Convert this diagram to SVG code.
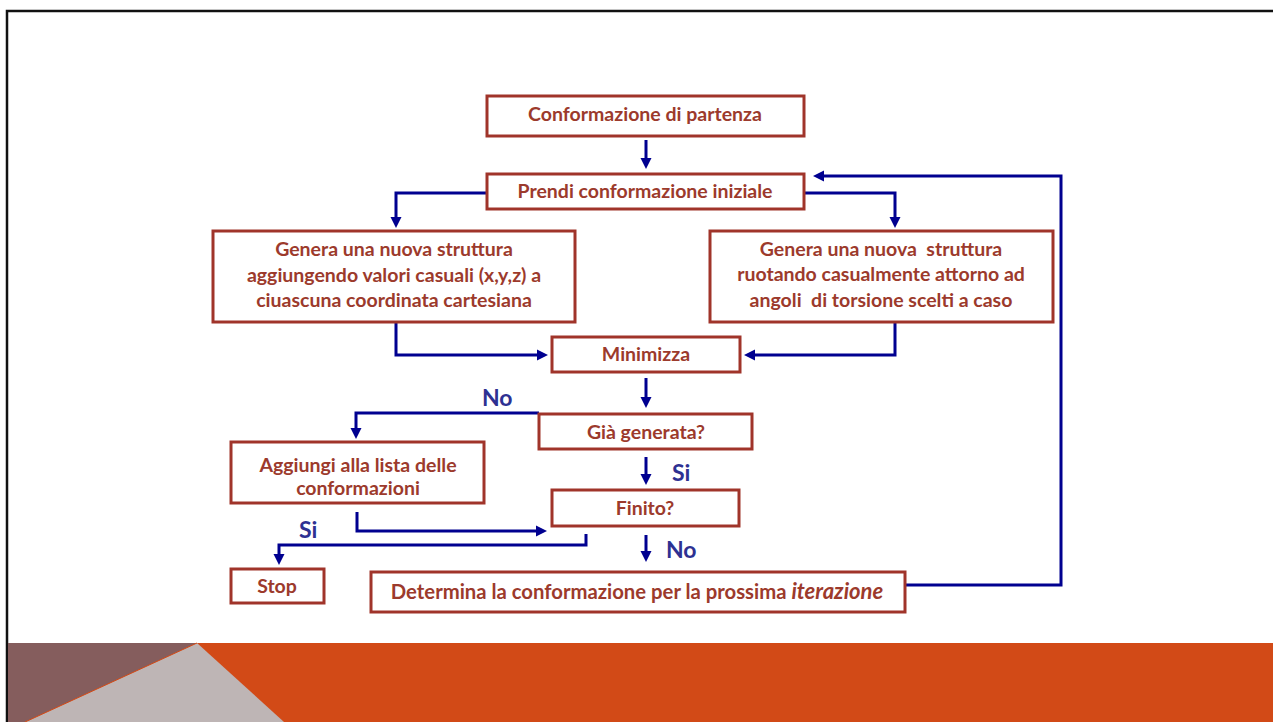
<svg xmlns="http://www.w3.org/2000/svg" width="1273" height="722" viewBox="0 0 1273 722">
<style>
.box{fill:#fff;stroke:#A0342A;stroke-width:3}
.t{font-family:"Lato","Liberation Sans",sans-serif;font-weight:bold;font-size:19.5px;fill:#9C3A2C;text-anchor:middle}
.lbl{font-family:"Lato","Liberation Sans",sans-serif;font-weight:bold;font-size:23px;fill:#2E3192}
.c{fill:none;stroke:#000090;stroke-width:3}
</style>
<defs>
<marker id="ah" markerUnits="userSpaceOnUse" markerWidth="12" markerHeight="12" refX="1" refY="6" orient="auto">
<path d="M0,0.5 L11,6 L0,11.5 z" fill="#000090"/>
</marker>
</defs>
<rect width="1273" height="722" fill="#fff"/>
<g id="background">
<path d="M7,722 V11 H1273" fill="none" stroke="#111" stroke-width="2.5"/>
<rect x="8" y="643" width="1265" height="79" fill="#D24A17"/>
<polygon points="8,643 197,643 25,722 8,722" fill="#855D5D"/>
<polygon points="197,643 284,722 25,722" fill="#BEB5B5"/>
<line x1="197" y1="643" x2="25" y2="722" stroke="#D24A17" stroke-width="1"/>
</g>
<g id="connectors">
<path class="c" d="M646,140 V159" marker-end="url(#ah)"/>
<path class="c" d="M487,193 H396 V218" marker-end="url(#ah)"/>
<path class="c" d="M804,193 H895 V218" marker-end="url(#ah)"/>
<path class="c" d="M906,585 H1061 V176 H823" marker-end="url(#ah)"/>
<path class="c" d="M396,323 V355 H538" marker-end="url(#ah)"/>
<path class="c" d="M895,323 V355 H754" marker-end="url(#ah)"/>
<path class="c" d="M646,378 V398" marker-end="url(#ah)"/>
<path class="c" d="M539,413 H356 V429" marker-end="url(#ah)"/>
<path class="c" d="M646,457 V475" marker-end="url(#ah)"/>
<path class="c" d="M357,512 V531 H537" marker-end="url(#ah)"/>
<path class="c" d="M586,534 V545 H279 V555" marker-end="url(#ah)"/>
<path class="c" d="M646,535 V552" marker-end="url(#ah)"/>
<text class="lbl" x="482" y="406">No</text>
<text class="lbl" x="672" y="481">Si</text>
<text class="lbl" x="299" y="538">Si</text>
<text class="lbl" x="666" y="558">No</text>
</g>
<g id="n1"><rect class="box" x="487" y="96" width="317" height="40"/><text class="t" x="645" y="121">Conformazione di partenza</text></g>
<g id="n2"><rect class="box" x="487" y="174" width="317" height="35"/><text class="t" x="645" y="198">Prendi conformazione iniziale</text></g>
<g id="n3"><rect class="box" x="213" y="231" width="362" height="91"/><text class="t" x="394" y="256">Genera una nuova struttura</text><text class="t" x="394" y="282">aggiungendo valori casuali (x,y,z) a</text><text class="t" x="394" y="307">ciuascuna coordinata cartesiana</text></g>
<g id="n4"><rect class="box" x="710" y="231" width="343" height="91"/><text class="t" x="881" y="256" xml:space="preserve">Genera una nuova  struttura</text><text class="t" x="881" y="281">ruotando casualmente attorno ad</text><text class="t" x="881" y="307" xml:space="preserve">angoli  di torsione scelti a caso</text></g>
<g id="n5"><rect class="box" x="552" y="337" width="188" height="35"/><text class="t" x="646" y="361">Minimizza</text></g>
<g id="n6"><rect class="box" x="539" y="414" width="213" height="35"/><text class="t" x="646" y="439">Già generata?</text></g>
<g id="n7"><rect class="box" x="231" y="442" width="253" height="61"/><text class="t" x="358" y="472">Aggiungi alla lista delle</text><text class="t" x="358" y="495">conformazioni</text></g>
<g id="n8"><rect class="box" x="552" y="490" width="187" height="36"/><text class="t" x="645" y="515">Finito?</text></g>
<g id="n9"><rect class="box" x="231" y="569" width="93" height="34"/><text class="t" x="277" y="593">Stop</text></g>
<g id="n10"><rect class="box" x="371" y="572" width="534" height="40"/><text class="t" x="637" y="599" style="font-size:20.3px">Determina la conformazione per la prossima <tspan style="font-style:italic;font-size:22px">iterazione</tspan></text></g>
</svg>
